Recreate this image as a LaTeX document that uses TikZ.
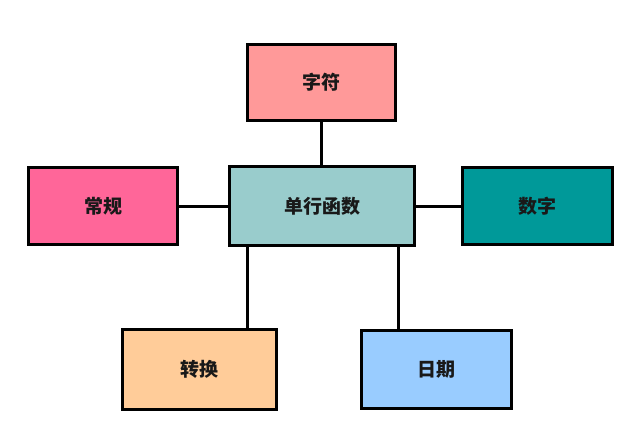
\documentclass[tikz,border=0pt]{standalone}
\usepackage{fontspec}
\newfontfamily\cjk{Noto Sans CJK SC}
\definecolor{cChar}{HTML}{FF9999}
\definecolor{cGen}{HTML}{FF6699}
\definecolor{cMain}{HTML}{99CCCC}
\definecolor{cNum}{HTML}{009999}
\definecolor{cConv}{HTML}{FFCC99}
\definecolor{cDate}{HTML}{99CCFF}
\begin{document}
\begin{tikzpicture}[x=1pt,y=-1pt,
  box/.style={draw=black, line width=3pt, rectangle, font=\cjk\bfseries\fontsize{19}{21}\selectfont, text=black!90},
  link/.style={draw=black, line width=3pt}]
\useasboundingbox (0,0) rectangle (640,426);
\node[box, fill=cChar, minimum width=148pt, minimum height=76pt] (char) at (321.5,82.5) {字符};
\node[box, fill=cGen, minimum width=149pt, minimum height=77pt] (gen) at (103,206) {常规};
\node[box, fill=cMain, minimum width=185pt, minimum height=79pt] (main) at (322,206) {单行函数};
\node[box, fill=cNum, minimum width=150pt, minimum height=77pt] (num) at (537.5,206) {数字};
\node[box, fill=cConv, minimum width=154pt, minimum height=80pt] (conv) at (199.5,369.5) {转换};
\node[box, fill=cDate, minimum width=150pt, minimum height=78pt] (date) at (436.5,369.5) {日期};
\coordinate (xa) at (247,0);
\coordinate (xb) at (398,0);
\draw[link] (char.south) -- (main.north -| char.south);
\draw[link] (gen.east) -- (main.west |- gen.east);
\draw[link] (main.east) -- (num.west |- main.east);
\draw[link] (main.south -| xa) -- (conv.north -| xa);
\draw[link] (main.south -| xb) -- (date.north -| xb);
\end{tikzpicture}
\end{document}
